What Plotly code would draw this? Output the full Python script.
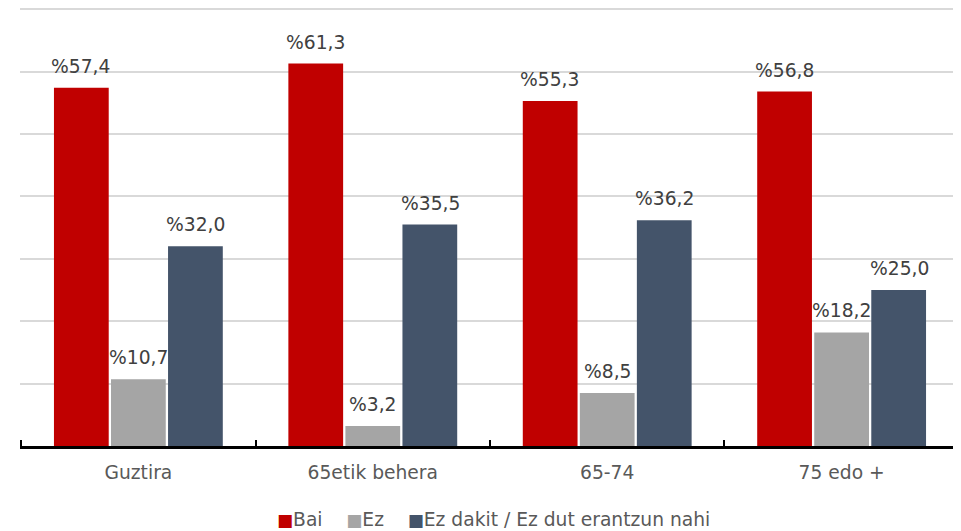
import plotly.graph_objects as go

categories = ["Guztira", "65etik behera", "65-74", "75 edo +"]
series_names = ["Bai", "Ez", "Ez dakit / Ez dut erantzun nahi"]
bai = [57.4, 61.3, 55.3, 56.8]
ez = [10.7, 3.2, 8.5, 18.2]
ez_dakit = [32.0, 35.5, 36.2, 25.0]
colors = ["#C00000", "#A5A5A5", "#44546A"]

FONT = "DejaVu Sans"
FS = 18.7

def fmt(v):
    return "%" + f"{v:.1f}".replace(".", ",")

fig = go.Figure()
all_series = [bai, ez, ez_dakit]
for name, vals, col in zip(series_names, all_series, colors):
    fig.add_trace(go.Bar(
        x=categories, y=vals, name=name, showlegend=False,
        marker=dict(color=col, line=dict(width=0)),
    ))

# value labels (placed above each bar, shifted to each bar's group slot)
slot_px = 57.5
for si, vals in enumerate(all_series):
    for cat, v in zip(categories, vals):
        fig.add_annotation(
            x=cat, y=v, xref="x", yref="y", text=fmt(v), showarrow=False,
            xshift=(si - 1) * slot_px, yshift=9, yanchor="bottom", xanchor="center",
            font=dict(family=FONT, size=FS, color="#404040"),
        )

# legend (Excel style: small square right before the name)
sep = "&nbsp;" * 4
legend_text = sep.join(
    f"<span style='color:{c};font-size:17px'>■</span>{n}" for n, c in zip(series_names, colors)
)
fig.add_annotation(
    x=0.5, y=-0.1667, xref="paper", yref="paper", xanchor="center", yanchor="middle",
    xshift=3, text=legend_text, showarrow=False,
    font=dict(family=FONT, size=FS, color="#595959"),
)

fig.update_layout(
    width=953, height=523,
    margin=dict(l=12, r=1, t=0, b=85, autoexpand=False),
    paper_bgcolor="white", plot_bgcolor="white",
    barmode="group", bargap=0.27, bargroupgap=0.04,
    font=dict(family=FONT, size=FS, color="#595959"),
    showlegend=False,
    xaxis=dict(showline=True, linecolor="black", linewidth=2.5, tickson="boundaries",
               range=[-0.505, 3.505],
               ticks="inside", ticklen=6, tickwidth=2, tickcolor="black", automargin=False,
               showgrid=False, tickfont=dict(size=FS, color="#595959"), ticklabelstandoff=8),
    yaxis=dict(range=[0, 70.2], tickvals=[10, 20, 30, 40, 50, 60, 70], showticklabels=False,
               showgrid=True, automargin=False,
               gridcolor="#D9D9D9", gridwidth=2, zeroline=False, ticks=""),
)
fig.write_html("out.html")
